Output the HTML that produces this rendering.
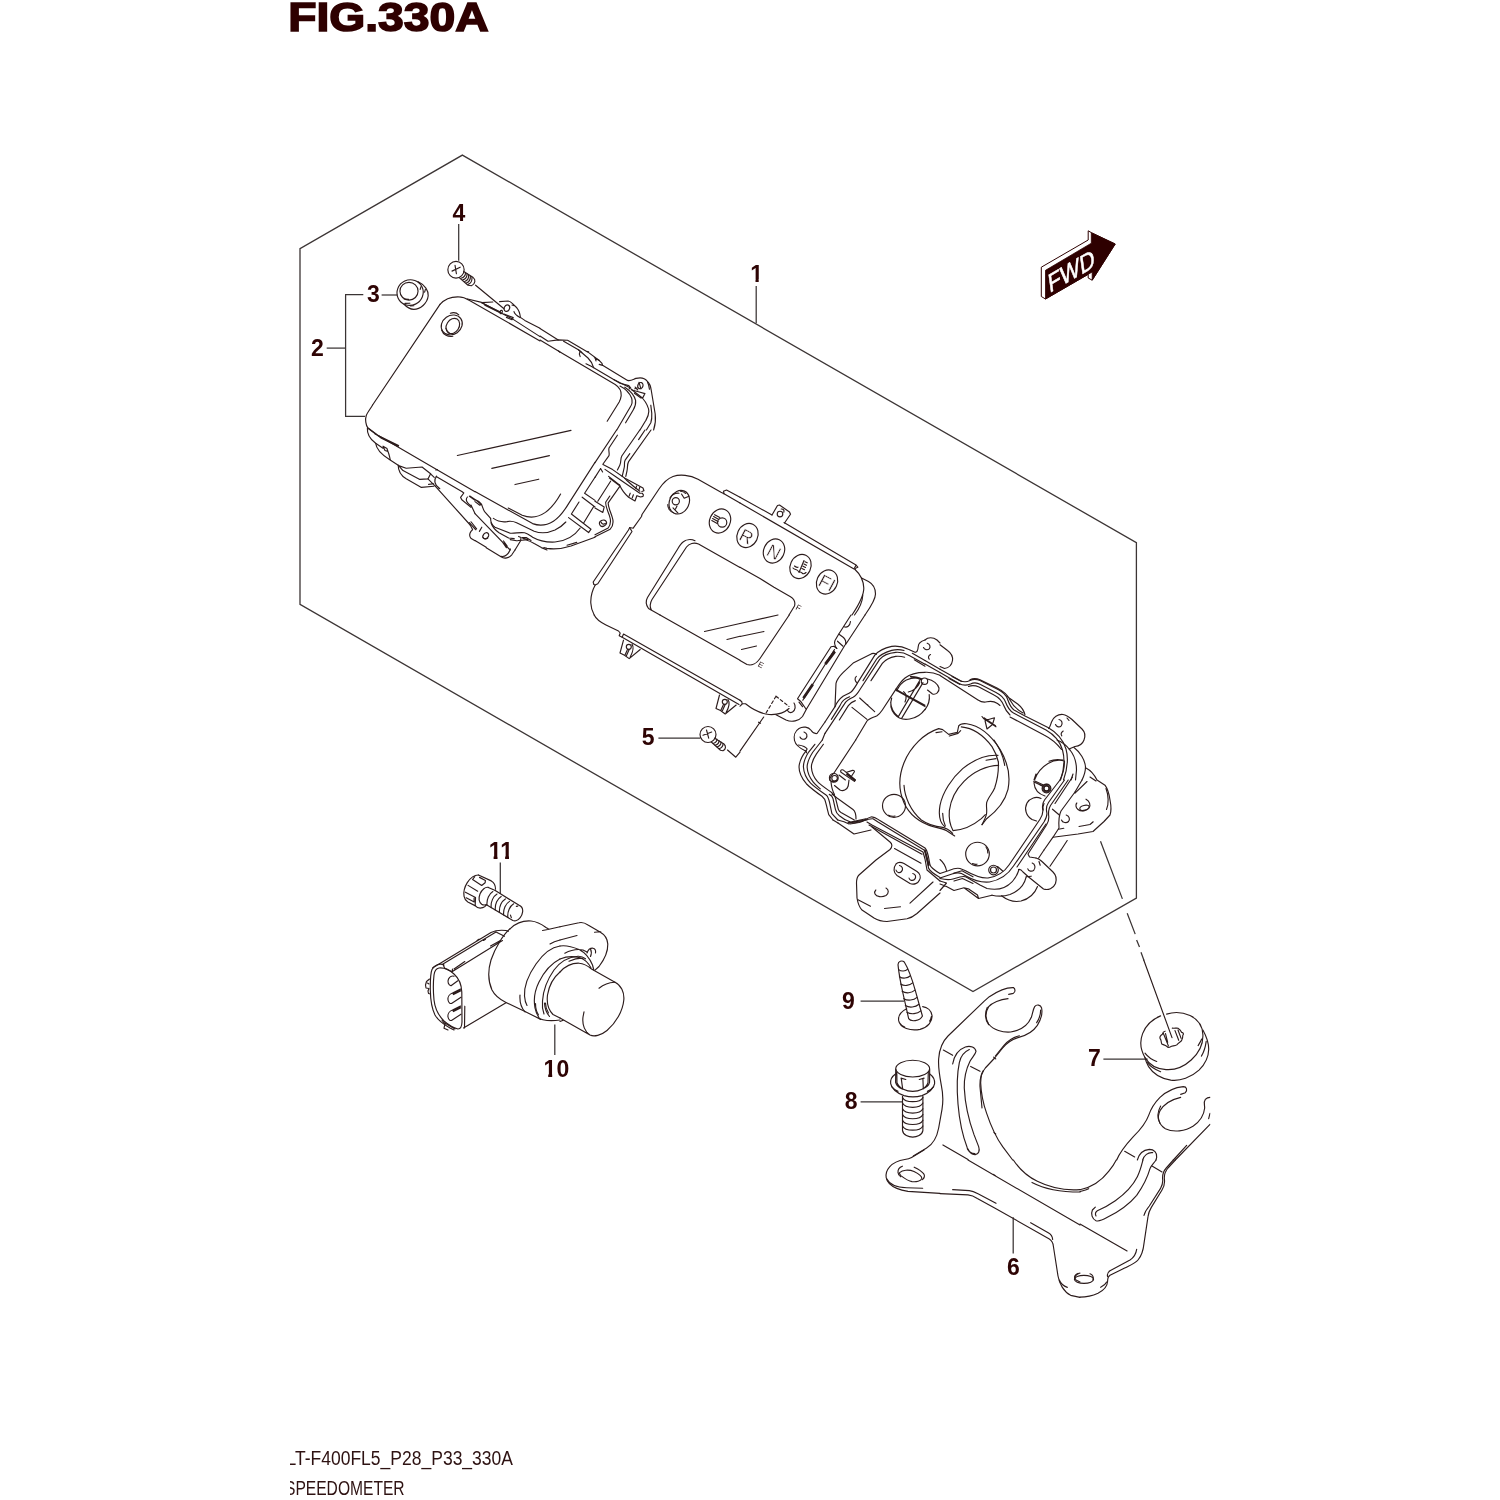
<!DOCTYPE html>
<html lang="en">
<head>
<meta charset="utf-8">
<title>FIG.330A SPEEDOMETER</title>
<style>
html,body{margin:0;padding:0;background:#fff;}
body{width:1500px;height:1500px;overflow:hidden;font-family:"Liberation Sans",sans-serif;}
svg{display:block;position:absolute;left:0;top:0;}
svg{will-change:transform;}
.ln{fill:none;stroke:#2c1c1c;stroke-width:1.15;stroke-linecap:round;stroke-linejoin:round;}
.ln *{vector-effect:non-scaling-stroke;}
.bd{fill:none;stroke:#3c3535;stroke-width:1.3;stroke-linejoin:miter;}
.ld{fill:none;stroke:#3a3434;stroke-width:1.25;}
.num{font-family:"Liberation Sans",sans-serif;font-weight:bold;font-size:23px;fill:#2e0404;text-anchor:middle;}
</style>
</head>
<body>
<svg width="1500" height="1500" viewBox="0 0 1500 1500">
<defs><clipPath id="k1"><path d="M745 260 H770 V279 H758.7 V284 H755.5 V279 H745 Z"/></clipPath><clipPath id="k10"><path d="M540 1054 H572 V1079 H556.4 V1074 H552.2 V1079 H548.2 V1074 H540 Z"/></clipPath><clipPath id="k11"><path d="M484 836 H518 V856 H509 V860 H505.1 V856 H497.5 V860 H493.6 V856 H484 Z"/></clipPath><clipPath id="cl"><rect x="290" y="0" width="1210" height="1500"/></clipPath></defs>
<rect width="1500" height="1500" fill="#fff"/>
<!-- TITLE -->
<text x="288.2" y="31.3" font-family="Liberation Sans, sans-serif" font-weight="bold" font-size="41" fill="#2e0000" stroke="#2e0000" stroke-width="1.6" textLength="200.5" lengthAdjust="spacingAndGlyphs">FIG.330A</text>
<!-- FOOTER -->
<g clip-path="url(#cl)" font-family="Liberation Sans, sans-serif" font-size="20" fill="#2e1212">
<text x="286.5" y="1464.8" textLength="226.5" lengthAdjust="spacingAndGlyphs">LT-F400FL5_P28_P33_330A</text>
<text x="285" y="1494.8" textLength="119.6" lengthAdjust="spacingAndGlyphs">SPEEDOMETER</text>
</g>
<!-- BORDER -->
<path class="bd" d="M462.4 155.1 L1136.4 542.7 L1136.4 898 L973 991.6 L300 604.4 L300 248.7 Z"/>
<!-- LABELS -->
<g class="num">
<text x="756.6" y="282.4" clip-path="url(#k1)">1</text>
<text x="317.3" y="356">2</text>
<text x="373.5" y="302.4">3</text>
<text x="459" y="220.7">4</text>
<text x="648.2" y="745">5</text>
<text x="1013.4" y="1274.6">6</text>
<text x="1094.4" y="1065.5">7</text>
<text x="851.2" y="1109.4">8</text>
<text x="848.3" y="1008.6">9</text>
<text x="556.4" y="1076.5" clip-path="url(#k10)">10</text>
<text x="501" y="858.5" clip-path="url(#k11)">11</text>
</g>
<!-- LEADERS -->
<g class="ld">
<path d="M756.2 286 V323.2"/>
<path d="M326.7 348.1 H345.6"/>
<path d="M363.3 294.7 H345.6 V416.4 H365"/>
<path d="M381.6 295 H397.3"/>
<path d="M458.7 224 V260.7"/>
<path d="M658.4 738 H700"/>
<path d="M1013.2 1217.2 V1253.6"/>
<path d="M1103.4 1059 H1147.6"/>
<path d="M860.6 1101.9 H902.6"/>
<path d="M860.6 1001 H904"/>
<path d="M554.8 1024.5 V1054.9"/>
<path d="M500.3 862.5 V894"/>
<path d="M1100.5 841.3 L1122.4 898.9 M1127.2 913.3 L1135.2 934.1 M1136.6 940 L1139.5 947 M1141 952.3 L1144 960.5"/>
</g>
<!-- FWD ARROW -->
<g id="fwd">
<path d="M1041.3 267.2 L1088.2 240 L1088.2 230.8 L1091.3 232.6 L1115.2 244 L1092.2 280.2 L1088.2 278 L1088.2 274.3 L1045.5 299 L1041.3 296.5 Z" fill="#fff" stroke="#2e0000" stroke-width="1"/>
<path d="M1045.5 270.3 L1091.3 243.2 L1091.3 232.8 L1115.2 244 L1092.2 280.2 L1092.2 272 L1045.5 299 Z" fill="#2e0000" stroke="#2e0000" stroke-width="0.8" stroke-linejoin="miter"/>
<text transform="matrix(1 -0.585 0.14 1 1049.5 293)" font-family="Liberation Sans, sans-serif" font-size="25" fill="#fff" stroke="#fff" stroke-width="0.55" textLength="46" lengthAdjust="spacingAndGlyphs">FWD</text>
</g>
<!-- PART 2/3/4 : lens + frame -->
<g class="ln">
<g transform="translate(440 250) scale(0.08)"><!--T1-->
<ellipse cx="200" cy="247" rx="102" ry="104"/>
<path d="M150 264 L252 215 M188 192 L205 297"/>
<path d="M297 268 L415 345 C447 368 445 425 393 447 L350 440 L240 345"/>
<path d="M262 354 C300 342 320 312 318 284 M285 374 C322 362 340 332 338 298 M308 394 C345 380 362 350 358 313 M330 412 C365 398 382 370 380 328 M352 430 C385 417 402 390 400 342"/>
<path d="M445 440 L800 735"/>
<path d="M0 680 C60 610 140 585 220 585 C290 588 330 605 370 630 L1250 1136"/>
<path d="M345 612 L520 655 L770 790 L900 858 L1250 1083"/>
<path d="M520 658 L660 650 M525 662 L755 775 M560 690 L770 792"/>
<path d="M745 645 L850 638 C870 640 885 650 900 665 L960 722 C985 750 1000 790 1005 842 L1060 880 L1250 979"/>
<path d="M900 688 L928 696 M925 770 C930 795 945 812 1000 845"/>
<ellipse cx="836" cy="727" rx="33" ry="42" transform="rotate(25 836 727)"/>
<ellipse cx="765" cy="775" rx="14" ry="22" transform="rotate(20 765 775)"/>
<path d="M800 800 L915 845 L900 872 L830 842"/>
<!-- lens hole -->
<ellipse cx="147" cy="937" rx="138" ry="118" transform="rotate(-35 147 937)"/>
<ellipse cx="160" cy="950" rx="78" ry="102" transform="rotate(32 160 950)"/>
<path d="M20 1000 C40 1060 100 1090 160 1078 M130 790 C170 775 215 790 235 810 M75 980 C85 1010 100 1030 120 1040"/>
</g>
<g transform="translate(355 405) scale(0.08)"><!--T2-->
<path d="M220 0 C190 50 150 100 140 135 C125 180 135 250 160 285 L280 375 L650 590 L1020 805 L1500 1085"/>
<path d="M1008 812 L1030 808"/>
<path d="M250 362 L545 505 M170 297 L330 415 L540 520"/>
<path d="M155 290 C150 350 180 420 258 478 C265 540 300 600 430 680 L540 752"/>
<path d="M258 478 L350 540 M350 515 L400 545 L412 580 L375 568 Z M412 580 C430 620 432 650 440 682"/>
<path d="M540 752 C540 820 560 872 640 922 L830 1030 L985 1015"/>
<path d="M545 758 L640 790 L838 775 L945 860 L912 924 L810 930 L600 820 Z"/>
<path d="M912 924 L1000 1010 L1440 1500 M945 860 L990 905 M920 992 L985 985"/>
<path d="M1020 890 C985 935 985 985 1050 1042 M1010 1000 L1060 1046"/>
<path d="M1015 893 L1340 1085 L1360 1100 L1320 1155 L1335 1185 L1450 1280"/>
<path d="M1500 1180 L1440 1140 M1405 1150 C1380 1180 1385 1210 1460 1272 M1430 1140 L1500 1190 M1450 1250 L1500 1357"/>
</g>
</g>
<g class="ln">
<g transform="translate(540 310) scale(0.08)"><!--T3-->
<path d="M0 232 L228 374"/>
<path d="M0 325 L100 390 L228 374 L345 378 L600 527 L745 635 L775 668 L782 692 L740 680"/>
<path d="M590 518 L608 522 M680 597 L742 632 M690 602 L700 636"/>
<path d="M782 692 L1095 880 C1130 890 1160 870 1200 855 C1260 840 1310 850 1340 890 C1375 920 1385 960 1390 1000 L1440 1300 C1450 1380 1440 1440 1420 1500"/>
<path d="M295 390 L480 497 L600 600 C640 640 660 680 670 720"/>
<path d="M480 497 L522 532 M500 520 C488 540 492 565 502 582"/>
<path d="M0 375 L240 520 L940 932 C990 965 1020 1010 1015 1070 C1010 1110 1000 1130 990 1150 L840 1390"/>
<path d="M232 512 L250 528"/>
<path d="M575 672 L640 702 L1000 915 L1110 945 L1135 975 L1115 985"/>
<path d="M920 870 L1120 968"/>
<path d="M1000 950 C1060 980 1120 1040 1145 1100 C1160 1150 1150 1180 1130 1210 L960 1500"/>
<path d="M1060 965 C1130 1010 1180 1070 1195 1130 C1200 1180 1185 1220 1165 1250 L1070 1410"/>
<path d="M1140 990 L1280 1100 C1330 1160 1360 1220 1360 1270 C1360 1320 1340 1350 1320 1385 L1250 1500"/>
<path d="M1345 905 C1360 930 1365 960 1368 990 M1385 1190 L1397 1290 C1400 1340 1395 1380 1385 1410 L1330 1500"/>
<ellipse cx="1255" cy="945" rx="32" ry="40" transform="rotate(20 1255 945)"/>
<path d="M1190 963 L1222 1000 M1238 905 L1262 985 M1185 985 L1215 975"/>
<path d="M1150 1000 L1230 1022 L1312 1045 L1287 1092 L1262 1100 L1180 1040"/>
</g>
<g transform="translate(475 430) scale(0.08)"><!--T4-->
<path d="M0 270 L1200 5 M210 480 L930 320 M500 682 L797 615"/>
<path d="M415 975 L590 1065 C690 1105 800 1085 880 1030 C960 970 1020 890 1070 800"/>
<path d="M0 770 L720 1170 C800 1200 900 1190 980 1140 C1060 1090 1110 1020 1170 920 L1500 405"/>
<path d="M230 1105 C280 1140 330 1155 400 1145 C450 1135 480 1140 520 1160 L740 1265 C820 1295 920 1285 1000 1250 C1060 1220 1100 1190 1135 1150"/>
<path d="M195 1105 C195 1160 210 1190 250 1215 L440 1290 C500 1295 560 1275 620 1285 C660 1295 690 1320 720 1340 C800 1385 900 1405 1000 1400 C1120 1390 1240 1330 1315 1225"/>
<path d="M0 870 C30 880 60 895 80 925 C95 960 100 990 120 1020 L195 1105 M0 895 L60 940 L80 928 M15 880 L70 925"/>
<path d="M200 1160 C220 1220 250 1250 300 1285 L420 1350 L490 1358 M440 1370 L520 1385 C560 1380 600 1372 640 1375 C680 1385 700 1395 740 1420 L830 1470 L900 1500"/>
<path d="M545 1330 L575 1345 L570 1385 L500 1500 M590 1345 L640 1345 L700 1382 M600 1358 L660 1370"/>
<path d="M0 1045 L440 1500 M340 1397 L392 1472 M357 1387 L402 1452 M0 1380 L140 1466"/>
<path d="M85 1215 L55 1267"/>
<ellipse cx="135" cy="1322" rx="42" ry="32" transform="rotate(-50 135 1322)"/>
<path d="M100 1345 C115 1360 140 1365 160 1350"/>
<path d="M1500 590 L1370 790 L1500 880 M1340 840 L1500 962 M1300 900 L1205 1050 L1450 1240 L1420 1282 L1170 1095 M1480 962 L1360 1160"/>
<path d="M1272 1405 L1150 1440 M1500 1340 L1200 1450 C1100 1482 1000 1495 900 1480 L860 1470"/>
</g>
</g>
<g class="ln">
<g transform="translate(595 430) scale(0.08)"><!--T5 frame right-->
<path d="M270 0 L0 408 M280 65 L175 225 C165 260 185 290 175 320 L100 425"/>
<path d="M100 432 L220 495 L370 600 L600 725 L612 760 L585 768"/>
<path d="M125 492 L260 585 L560 790 L590 790 L605 810 L600 830 L570 838 L525 822"/>
<path d="M305 685 C330 740 370 800 420 840 L500 887 L522 825 M370 605 C420 650 470 700 560 765"/>
<path d="M440 790 L425 830 M480 810 L465 850 M520 700 L510 730 M560 715 L550 745"/>
<path d="M170 580 L310 690 M180 600 L300 690" />
<path d="M560 0 L335 325 C315 360 330 400 310 440 L280 500"/>
<path d="M625 0 L545 120 M435 295 L375 380 C360 410 375 440 365 470 L340 580"/>
<path d="M700 0 L420 395 C400 430 410 470 400 510 L385 580"/>
<path d="M70 482 L0 592 M70 482 L95 525 M195 640 L35 890"/>
<path d="M0 892 L115 962 L98 1030 L0 975"/>
<path d="M310 705 L165 910 C160 950 190 1010 215 1090 C235 1150 235 1190 190 1240 L0 1335"/>
<path d="M185 825 L135 900 C125 930 150 990 180 1070 C205 1140 200 1180 165 1225 L0 1308"/>
<ellipse cx="100" cy="1165" rx="45" ry="38" transform="rotate(-30 100 1165)"/>
<path d="M75 1150 C85 1175 105 1185 130 1170"/>
</g>
</g>
<g class="ln">
<path d="M440 304.4 L372.6 405 M457.3 455.5 L475.5 451.5"/>
<g transform="translate(385 265) scale(0.04)"><!--button 3-->
<ellipse cx="628" cy="690" rx="330" ry="318" transform="rotate(-25 628 690)"/>
<ellipse cx="600" cy="655" rx="226" ry="222"/>
<path d="M830 420 C1000 500 1090 640 1080 770 C1060 960 880 1110 720 1110 C620 1105 540 1050 470 975"/>
<path d="M500 960 L620 955 M640 1025 L720 1020 M880 610 L900 540 M990 680 L1010 610 M480 850 L590 860"/>
</g>
<g transform="translate(415 500) scale(0.08)"><!--T6 foot-->
<path d="M690 312 L720 370 L700 392 C680 420 675 452 702 482 L750 508"/>
<path d="M890 596 L1075 710 C1120 740 1175 725 1210 685 L1250 625"/>
<path d="M1075 705 C1120 712 1160 685 1180 642 L1192 612"/>
<path d="M680 282 L760 372 M700 272 L770 360"/>
</g>
</g>
<!-- PANEL -->
<g class="ln">
<g transform="translate(590 465) scale(0.1)"><!--P1-->
<path d="M1340 288 L1310 272 L1080 142 C1000 100 900 90 830 115 C770 138 730 180 690 240 L520 495 L515 515 L432 632 L397 625 L385 650 L32 1170 L38 1195 L52 1200 C25 1250 5 1310 8 1380 C10 1430 25 1470 42 1500"/>
<path d="M397 627 L420 665 L78 1188 L52 1200"/>
<path d="M1335 262 L1365 250 L1500 322 M1340 288 L1500 380 M1335 262 L1340 288"/>
<ellipse cx="893" cy="372" rx="98" ry="122" transform="rotate(25 893 372)"/>
<circle cx="858" cy="362" r="36"/>
<path d="M830 428 L880 482 M915 290 L942 332 L990 312 M778 395 C775 430 800 465 835 478 M800 330 C815 300 850 280 890 282 M905 262 C925 262 945 272 955 285 M870 410 L855 440"/>
<ellipse cx="1300" cy="560" rx="103" ry="125" transform="rotate(25 1300 560)"/>
<circle cx="1322" cy="575" r="46"/>
<path d="M1218 555 L1272 585 M1226 535 L1280 565 M1236 515 L1288 545 M1246 497 L1298 525"/>
<path d="M1050 757 C1010 738 960 745 930 770 C910 785 895 810 880 835 L575 1325 C555 1360 560 1400 585 1435 L700 1500"/>
<path d="M1500 1025 L1085 790 C1040 770 990 785 965 820 L620 1345 C598 1385 598 1420 612 1448"/>
</g>
<g transform="translate(740 465) scale(0.1)"><!--P2-->
<path d="M0 322 L320 500 M440 575 L1160 1000 L1178 1022 L1160 1030 L1150 1045"/>
<path d="M0 380 L1140 1040 L1160 1002"/>
<path d="M320 500 L375 405 L395 400 L495 470 L505 492 L445 580"/>
<circle cx="400" cy="490" r="28"/><path d="M412 440 C435 438 445 455 438 472"/>
<path d="M1150 1045 C1200 1090 1235 1160 1238 1230 C1240 1300 1200 1380 1120 1500"/>
<path d="M1215 1130 L1285 1165 C1330 1190 1355 1240 1355 1290 C1355 1340 1320 1400 1250 1500"/>
<path d="M1228 1300 C1225 1370 1190 1440 1145 1500"/>
<ellipse cx="75" cy="705" rx="103" ry="125" transform="rotate(25 75 705)"/>
<ellipse cx="340" cy="860" rx="103" ry="125" transform="rotate(25 340 860)"/>
<ellipse cx="605" cy="1015" rx="103" ry="125" transform="rotate(25 605 1015)"/>
<ellipse cx="870" cy="1170" rx="103" ry="125" transform="rotate(25 870 1170)"/>
<path d="M640 955 L590 1075 M650 968 L672 978 M640 990 L665 1002 M630 1012 L655 1024 M620 1035 L645 1047 M530 1030 C545 1050 565 1040 575 1055 C590 1075 610 1065 620 1080 C635 1095 650 1085 660 1075 M545 1010 C555 1020 570 1025 580 1022"/>
<path d="M0 1022 L200 1135 L340 1222 L505 1318 C540 1340 555 1375 545 1410 L490 1500"/>
</g>
<g transform="translate(590 615) scale(0.1)"><!--P3-->
<path d="M42 0 C60 40 100 70 160 100 L285 160 L302 180 L292 208 L322 222"/>
<path d="M335 190 L1500 852 M322 222 L1490 895 M335 190 L322 222"/>
<path d="M335 252 L300 380 L345 402 L392 436 L502 345 M420 292 C440 320 430 370 400 425 M375 345 L350 400 M392 345 L365 405"/>
<circle cx="388" cy="318" r="25"/>
<path d="M1295 800 L1260 935 L1305 955 L1352 990 L1462 900 M1380 845 C1400 875 1390 925 1360 978 M1335 895 L1310 950 M1352 895 L1325 955"/>
<circle cx="1348" cy="868" r="25"/>
<path d="M700 0 L1500 452 M1145 165 L1500 85 M1370 245 L1500 212"/>
<circle cx="1180" cy="1195" r="80"/>
<path d="M1130 1202 L1217 1170 M1165 1150 L1187 1232"/>
<path d="M1247 1232 L1340 1290 C1362 1310 1360 1345 1330 1358 L1305 1352 L1213 1270"/>
<path d="M1232 1285 C1258 1275 1272 1255 1268 1240 M1252 1303 C1280 1292 1292 1272 1290 1255 M1272 1320 C1298 1310 1312 1290 1310 1270 M1292 1338 C1318 1328 1332 1308 1330 1285"/>
<path d="M1375 1350 L1458 1422 L1500 1372"/>
</g>
<g transform="translate(740 615) scale(0.1)"><!--P4-->
<path d="M492 0 L200 435 C170 480 120 510 70 495 L0 455"/>
<path d="M0 85 L380 0 M0 215 L240 165 M15 345 L165 310"/>
<path d="M0 852 L18 868 L22 890 L0 912 M22 885 L55 888 C120 940 200 985 290 995 C370 1000 440 980 490 935"/>
<path d="M540 880 C560 910 555 950 525 970 C505 980 485 972 475 955"/>
<path d="M360 997 L460 1050 C520 1075 590 1060 625 1015 L665 940"/>
<path d="M360 812 L490 915 M360 812 L262 978" stroke-dasharray="3 2.5"/>
<path d="M237 1020 L0 1362 M185 1072 L205 1082"/>
<path d="M575 838 L910 318 L940 312 L968 335 M945 345 L628 852 M575 838 L605 862 L660 940 M590 872 L625 917"/>
<path d="M850 482 L940 362 M857 487 L946 368 M864 492 L952 374 M630 822 L720 690 M637 827 L726 696 M644 832 L732 702"/>
<path d="M1050 300 L665 940 M1110 0 L985 195 L950 255 C940 280 950 310 968 335"/>
<path d="M990 192 L1035 225 C1055 245 1062 270 1055 295 M975 262 L1030 312 M1250 0 L1058 292 M1040 118 C1070 130 1100 110 1105 65"/>
</g>
</g>
<g font-family="Liberation Sans, sans-serif" fill="#2a1818" text-anchor="middle" stroke="#fff" stroke-width="0.45" style="paint-order:fill stroke;text-rendering:geometricPrecision">
<text transform="translate(746.5 536.5) rotate(28)" font-size="18" y="6.4">R</text>
<text transform="translate(774 551.8) rotate(28)" font-size="18" y="6.4">N</text>
<text transform="translate(827 582.8) rotate(28)" font-size="18" y="6.4">FI</text>
<text transform="translate(798.5 607.5) rotate(28)" font-size="8" y="2.9" stroke="none">F</text>
<text transform="translate(761 664.8) rotate(28)" font-size="8" y="2.9" stroke="none">E</text>
</g>
<!-- HOUSING -->
<g class="ln">
<g transform="translate(825 640) scale(0.066667)"><!--HC-->
<path d="M150 1000 L165 650 C180 590 220 540 270 490 L430 340 L700 205 C730 195 755 205 770 215 M470 545 C440 570 445 620 485 645"/>
<path d="M0 1230 L150 1000 C175 940 210 890 270 845 C310 820 350 810 390 780 C430 745 455 700 490 640 L745 230 C790 175 880 120 1000 95 C1080 85 1170 100 1250 140 L1350 185 C1385 185 1395 150 1398 100 C1400 60 1430 20 1500 0"/>
<path d="M95 1190 L225 985 C250 920 290 880 370 852 M570 610 L775 285 C820 225 900 185 1000 155 C1060 140 1130 140 1185 158"/>
<path d="M0 1400 L290 962 C315 915 360 885 420 860 C470 835 490 800 520 750 L820 290 C870 230 960 195 1060 185 C1130 180 1200 195 1270 235 L1500 362"/>
<path d="M215 1200 L350 985 C375 950 410 925 455 910 M690 610 L860 350 C900 300 980 260 1060 245 C1110 240 1150 245 1195 258"/>
<path d="M1310 200 L1500 308 M1340 298 L1500 392"/>
<path d="M460 1500 L630 1215 C660 1180 720 1165 780 1135 C820 1110 840 1080 860 1050 L1060 745 C1100 680 1150 610 1200 570 C1270 515 1380 485 1500 485"/>
<path d="M1075 760 C1110 690 1160 630 1220 600 C1290 570 1370 560 1445 580"/>
<path d="M520 870 L745 1075 M405 1010 L630 1190 M632 968 L648 982"/>
<path d="M1000 870 C975 950 985 1040 1040 1110 C1090 1170 1180 1200 1270 1185 C1360 1170 1450 1110 1500 1040 M985 935 C990 1020 1030 1100 1100 1150"/>
<path d="M1060 738 L1500 978 M1066 754 L1500 998"/>
<path d="M1420 610 L1100 1150 M1470 640 L1150 1175 M1180 775 C1215 800 1230 850 1200 930 M1250 780 C1330 760 1390 710 1420 640 M1280 548 C1340 545 1410 560 1450 590 M1290 558 C1340 555 1400 570 1440 598"/>
</g>
<g transform="translate(790 630) scale(0.1)"><!--H1-->
<path d="M350 920 L270 1035 C245 1040 225 1025 208 1000 C185 970 130 960 90 985 C50 1010 35 1060 45 1105 C55 1150 100 1185 160 1212 L165 1228"/>
<path d="M140 1020 C170 1030 178 1060 160 1082 C140 1100 110 1095 100 1070 M85 1150 C120 1155 155 1165 172 1190 L155 1212"/>
<path d="M350 1033 L323 1100"/>
<path d="M657 1100 L440 1430 C415 1450 400 1475 398 1500"/>
<path d="M1350 100 C1380 70 1430 70 1470 100 L1500 130 M1372 132 C1400 140 1408 170 1392 188 C1375 205 1345 198 1335 175 M1405 245 C1385 255 1378 275 1392 292"/>
<path d="M1350 305 L1500 392 M1350 341 L1500 425 M1350 423 C1400 420 1450 430 1500 452"/>
<circle cx="1345" cy="512" r="32"/>
<path d="M1375 490 C1430 500 1480 540 1490 580 C1495 620 1460 650 1425 640 L1375 600 M1350 797 C1385 750 1400 700 1392 645"/>
</g>
</g>
<g class="ln">
<g transform="translate(940 630) scale(0.1)"><!--H2-->
<path d="M0 148 L75 205 C110 230 130 270 125 305 C118 350 85 380 45 385 L0 365"/>
<path d="M0 392 L200 505 C240 525 270 520 300 505 C330 490 360 488 400 505 L580 595 C630 620 660 650 675 690 C690 730 700 770 740 800 L850 860 L1080 975 C1160 1020 1230 1090 1260 1190 C1285 1280 1270 1400 1235 1500"/>
<path d="M0 425 L190 535 C235 560 270 555 305 540 C335 525 370 525 405 545 L560 625 C610 650 640 680 655 720 C670 760 690 805 735 830 L1060 1000 C1130 1040 1200 1110 1225 1200 C1250 1290 1240 1400 1205 1500"/>
<path d="M300 498 C330 482 370 485 400 498 L570 580 C640 615 680 650 700 700 C720 740 760 790 830 830 M668 662 L780 742 C815 770 840 805 850 848"/>
<path d="M285 565 C320 550 350 552 390 570 L540 650 C600 680 625 720 640 760 C650 790 670 820 700 850"/>
<path d="M0 455 L380 700 C410 720 440 725 470 718 C510 708 545 715 575 735 L600 755 M90 485 L200 545 M120 465 L215 515"/>
<path d="M700 870 L1040 1050 C1120 1090 1180 1150 1215 1195 M1170 1100 C1220 1120 1270 1160 1300 1200"/>
<path d="M1085 985 C1100 975 1105 950 1115 920 C1130 870 1180 840 1230 845 C1265 850 1290 870 1320 895 L1420 990 C1450 1020 1455 1060 1440 1100 C1425 1140 1390 1162 1350 1165"/>
<path d="M1190 895 C1220 900 1230 935 1212 958 C1195 978 1165 970 1155 945 M1232 1010 C1212 1022 1205 1042 1218 1058 M1270 880 L1290 905"/>
<path d="M1290 1190 L1350 1165 M1340 1175 C1400 1220 1450 1300 1455 1370 C1455 1420 1440 1460 1420 1500 M1300 1200 C1340 1250 1365 1330 1365 1400 L1355 1500 M1330 1440 L1310 1500"/>
<path d="M420 865 L435 885 L560 968 M450 905 L545 878 L525 945 L470 990 Z M440 878 L555 958"/>
<path d="M945 1500 C970 1430 1020 1370 1080 1335 C1130 1305 1190 1295 1245 1310 M1090 1312 C1130 1295 1180 1290 1230 1300 M960 1440 L940 1500 M1245 1310 C1245 1380 1225 1450 1200 1500"/>
</g>
</g>
<g class="ln">
<g transform="translate(1040 700) scale(0.1)"><!--H3-->
<path d="M420 800 L350 920 M460 680 C500 700 545 750 570 800 L650 852 C670 880 690 930 700 1000 C712 1060 715 1110 700 1150 L640 1215 L530 1315 L380 1340 L130 1372 M500 770 L560 810"/>
<path d="M660 885 C685 950 690 1040 665 1095"/>
<path d="M460 992 C495 1010 510 1050 490 1080 C470 1110 410 1120 380 1095 C355 1075 355 1045 368 1030"/>
<ellipse cx="445" cy="1078" rx="48" ry="24" transform="rotate(-15 445 1078)"/>
<path d="M390 1265 L500 1245 L532 1218 M470 815 L350 932 M350 920 L210 1110 C190 1150 185 1200 190 1280 L130 1372 L40 1500"/>
<path d="M262 1150 C295 1160 302 1195 285 1215 C265 1235 225 1228 215 1200 M185 1292 L238 1283 M125 1092 L190 1148"/>
<path d="M272 1405 L210 1500"/>
<circle cx="65" cy="885" r="44"/><circle cx="65" cy="885" r="27"/>
<path d="M0 848 L28 862"/>
</g>
</g>
<g class="ln">
<g transform="translate(790 780) scale(0.1)"><!--H4-->
<path d="M430 400 L480 430"/>
<path d="M478 400 L540 418 L590 440"/>
<path d="M547 395 L600 418"/>

<path d="M600 440 L690 425 C740 410 770 380 810 370 C840 365 860 380 890 400 L1350 680 C1370 700 1375 730 1385 770 L1400 850 C1410 880 1440 900 1500 935"/>
<path d="M640 430 L720 415 C760 400 790 385 830 388 L880 420 L1340 700 C1355 720 1360 750 1368 790 L1385 880 C1395 910 1440 940 1500 975"/>
<path d="M770 420 L820 450 L1330 720 L1350 790 L1370 900 L1500 1010 M790 450 L1320 742 M580 425 L760 388 M590 432 L770 398 M1345 700 L1385 860 M1352 700 L1392 850"/>
<path d="M480 430 L640 540 L810 500 M820 470 L1000 620 C1025 640 1025 670 1000 695 L860 800 L690 950 C670 970 665 1000 665 1030 L670 1180 C680 1240 690 1270 720 1300 L840 1380 C880 1405 930 1415 970 1415 L1170 1388 C1210 1380 1240 1360 1270 1335 L1500 1130"/>
<path d="M680 1198 L805 1262 M945 1285 L1105 1268 M1200 1232 L1430 1020 M1045 685 L1310 832"/>
<path d="M1060 840 C1080 820 1110 820 1140 835 L1270 915 C1300 935 1310 970 1295 1000 C1280 1035 1240 1050 1200 1035 L1070 955 C1035 930 1030 880 1060 840"/>
<path d="M1095 855 C1125 860 1135 895 1115 915 C1095 935 1065 925 1060 900 M1228 935 C1258 940 1265 975 1245 995 C1225 1012 1195 1005 1190 980"/>
<path d="M960 1080 C990 1095 990 1135 960 1155 C920 1175 865 1170 850 1140 C842 1125 848 1110 858 1100"/>
<path d="M420 140 L470 180 L630 295 C650 310 660 340 660 390"/>
<circle cx="1040" cy="258" r="115"/><path d="M985 352 C1005 362 1030 365 1050 360"/>
<path d="M410 20 C415 70 425 110 445 145 M445 55 L500 100 C530 115 570 100 582 60 L590 0 M400 0 C420 25 450 20 470 0"/>
</g>
</g>
<g class="ln">
<g transform="translate(940 780) scale(0.1)"><!--H5-->
<path d="M1200 0 L1045 200 C1025 230 1020 260 1028 300 C1032 340 1015 370 1000 392 L690 850 C650 910 580 965 480 980 C400 985 330 950 250 905 L200 885 C170 878 130 888 90 905 L0 935"/>
<path d="M1245 0 L1085 225 C1065 255 1060 290 1068 325 C1075 360 1055 395 1040 420 L735 860 C690 930 610 1000 495 1020 C400 1030 330 1000 260 960 L215 935 C190 925 150 930 120 940 L0 980"/>
<path d="M1282 0 L1105 255 C1085 290 1082 330 1088 370 C1090 400 1080 425 1065 450 L880 740 L895 770 L960 780"/>
<path d="M1060 440 L770 870 M1325 -30 L1150 235 M1040 235 C1030 255 1028 280 1032 300"/>
<path d="M960 780 C985 785 1000 795 1020 815 L1130 920 C1160 950 1170 990 1155 1035 C1135 1085 1080 1105 1035 1090 L880 965 L830 920 C815 900 800 890 785 895"/>
<path d="M922 830 C952 840 958 880 938 902 C918 920 885 912 878 888 M990 815 L1002 852 M862 968 L912 962"/>
<path d="M862 968 C845 1040 790 1110 700 1145 C640 1165 580 1165 520 1152"/>
<path d="M975 1065 C950 1130 890 1190 810 1210 C740 1225 670 1200 615 1158"/>
<path d="M790 895 C770 960 720 1040 640 1075 C580 1100 520 1095 470 1085 L400 1050 L270 975 C250 962 230 962 200 970 L130 990 C100 998 60 1000 0 985"/>
<path d="M140 1010 L225 985 L330 1035 M135 932 L220 908 L330 968"/>
<path d="M0 1040 L60 1062 L140 1105 L240 1078 L290 1090 M240 1078 L385 1185 L520 1152 M290 1092 L375 1150 L385 1185 M0 1010 L65 1030 L0 1105 M0 795 C30 820 55 860 65 905"/>
<circle cx="375" cy="740" r="118"/><path d="M325 835 C340 842 355 845 370 842 M460 670 C475 690 480 710 478 730"/>
<circle cx="535" cy="900" r="48"/><circle cx="535" cy="900" r="30"/><path d="M575 865 L630 912"/>
<path d="M1010 185 C960 160 900 180 870 230 C840 290 860 360 920 395 L965 410"/>
<path d="M935 18 L1030 62 M940 30 C945 90 985 140 1050 160 M948 10 L1040 52"/>
<circle cx="1065" cy="82" r="38"/><circle cx="1065" cy="82" r="26"/>
<path d="M1210 700 L1100 862 M1040 700 L985 782"/>
</g>
</g>
<g class="ln">
<g transform="translate(815 755) scale(0.04)"><!--pointer-->
<circle cx="470" cy="572" r="110"/><circle cx="490" cy="582" r="70"/>
<path d="M600 500 L760 625 M640 400 C650 370 690 355 720 385 L1010 625 L985 660 L650 430 Z M790 430 L940 385 C970 380 990 395 985 420 L920 520"/>
<path d="M800 470 L1000 635 M790 485 L990 648 M810 460 L1005 625"/>
</g>
</g>
<!-- BRACKET 6, SCREWS 8 9, GROMMET 7 -->
<defs><clipPath id="cr"><rect x="0" y="0" width="1210.5" height="1500"/></clipPath></defs>
<g class="ln" clip-path="url(#cr)">
<g transform="translate(880 960) scale(0.133333)"><!--B1-->
<path d="M135 35 C135 10 165 0 182 15 C210 60 240 140 265 230 L318 420 M135 35 C140 90 150 150 170 240 L215 440 C230 465 300 460 318 420"/>
<path d="M140 72 C160 88 190 85 208 68 M146 125 C170 142 205 138 228 118 M155 180 C180 198 222 193 245 172 M166 235 C195 253 238 248 262 226 M178 290 C208 308 252 302 278 280 M190 342 C220 360 266 355 292 332 M202 392 C232 410 280 405 306 382"/>
<path d="M200 365 C160 385 135 420 140 455 C150 510 230 535 300 520 C360 505 395 460 390 415 C385 380 355 355 320 350 M148 472 C158 488 170 497 185 503 M385 425 C383 440 378 450 372 458"/>
<path d="M1000 207 C950 205 880 235 820 275 L780 310 L510 570 C470 610 445 670 440 740 C435 800 445 860 460 940 C475 1010 475 1060 465 1120 L440 1260 C425 1340 400 1380 350 1410 L250 1470"/>
<path d="M1000 207 C1015 215 1018 240 1000 250 L965 258"/>
<path d="M960 290 C900 295 840 320 815 350 C790 390 790 440 815 480 C850 525 920 545 980 540 C1050 530 1110 490 1135 430 C1145 400 1148 370 1160 350 C1175 330 1205 335 1212 360 C1220 400 1205 450 1180 490 C1150 535 1100 565 1040 580"/>
<path d="M805 355 C785 400 790 450 815 485 M1205 375 C1205 410 1195 440 1175 470"/>
<path d="M1040 580 C990 595 950 620 920 660 L860 735 L790 810 C765 840 755 870 755 920 C758 1000 775 1080 800 1150 C830 1240 870 1330 920 1400 L995 1500"/>
<path d="M1045 568 C1000 580 960 605 930 640 L865 720 M775 830 C755 860 748 900 750 950 L765 1110 M852 728 L868 742 M855 1295 L868 1305"/>
<path d="M545 780 C555 720 590 670 640 652 C680 640 715 655 720 685 C715 710 690 730 675 760 C645 820 630 880 632 960 C638 1080 665 1200 705 1310 L740 1400 C750 1430 740 1455 715 1460 C690 1462 670 1440 655 1410 C620 1320 595 1200 585 1080 C575 960 578 850 595 770 C605 720 630 690 670 672"/>
<path d="M655 1415 C665 1435 690 1452 712 1452"/>
<path d="M475 675 L545 715 M680 798 L750 835 M472 1387 L660 1497"/>
</g>
<g transform="translate(1080 960) scale(0.133333)"><!--B2-->
<path d="M478 0 L690 582"/>
<path d="M275 1500 C300 1440 340 1390 400 1325 C450 1275 495 1220 515 1165 C530 1120 555 1075 600 1030 C650 985 720 955 775 950 C800 950 808 975 790 995 L755 1008"/>
<path d="M755 1030 C690 1045 630 1080 600 1130 C575 1180 590 1235 640 1265 C700 1295 790 1285 850 1245 C900 1210 930 1160 935 1110 C935 1085 925 1065 940 1045 C950 1035 965 1030 975 1030"/>
<path d="M605 1095 C580 1140 580 1190 600 1225 M975 1150 L965 1190"/>
<path d="M975 1233 L715 1500 M800 1390 L700 1500"/>
<path d="M430 1500 C440 1460 470 1425 520 1420 C555 1420 580 1445 575 1480 L570 1500 M470 1500 C480 1465 510 1440 545 1445"/>
<path d="M335 1435 L410 1477"/>
</g>
<g transform="translate(880 1160) scale(0.133333)"><!--B3-->
<path d="M450 252 L660 262 C690 265 710 275 730 288 L860 360 L1270 592 C1290 605 1298 620 1300 645 L1335 870 C1345 930 1380 990 1430 1015 L1500 1030"/>
<path d="M50 140 C70 180 130 205 200 208 L320 212 M545 222 L670 230 C695 232 715 242 735 253 L870 325 M1130 470 L1265 548 C1285 560 1293 575 1295 595 M1345 900 C1355 925 1375 945 1405 955"/>
<path d="M660 0 L1500 488 M852 108 L868 120"/>
<path d="M1000 0 C1040 60 1100 120 1180 160 C1270 205 1390 230 1500 222 M1140 168 C1220 210 1350 240 1500 240"/>
<path d="M1500 848 C1465 860 1450 880 1470 900 L1500 915"/>
</g>
<g transform="translate(1050 1130) scale(0.133333)"><!--B4-->
<path d="M225 448 C310 430 390 375 440 310 C465 280 485 250 497 225 M225 462 C250 455 270 450 290 440"/>
<path d="M765 270 L840 315"/>
<path d="M795 225 C780 250 760 260 750 290 C730 360 700 420 650 490 C600 550 520 610 430 655 C400 672 370 690 345 680 C315 665 305 630 318 600 L340 578"/>
<path d="M697 225 C690 250 680 300 655 350 C620 420 560 480 490 530 C440 565 390 590 355 605 C340 615 338 630 345 645"/>
<path d="M940 225 L885 285 C860 315 855 340 858 370 C862 400 858 420 840 450 L760 580 C745 605 738 625 735 650 L705 850 C700 900 690 940 660 975 C640 1000 600 1015 560 1035 L450 1090 C435 1100 432 1115 432 1135 C430 1170 400 1205 360 1225 C310 1248 270 1254 225 1254"/>
<path d="M925 225 L872 285 C848 312 842 340 845 370 C848 395 842 415 828 440 L745 570 C720 600 710 620 705 640 M650 895 C645 930 630 955 600 975 L450 1055 C430 1068 428 1085 432 1100 M425 1140 C415 1160 400 1170 380 1180"/>
<ellipse cx="255" cy="1120" rx="72" ry="30"/>
<path d="M185 1115 C182 1095 195 1080 212 1075 M300 1078 C320 1085 330 1105 322 1125"/>
<path d="M225 705 L578 907"/>
</g>
</g>
<!-- SENSOR 10 + BOLT 11 -->
<g class="ln">
<g transform="translate(410 880) scale(0.1)"><!--S1-->
<path d="M340 850 C300 830 240 850 220 895 C205 930 202 1000 203 1100 C205 1200 215 1280 250 1350 C275 1395 330 1440 400 1480 L440 1500"/>
<path d="M290 880 C260 885 245 910 240 950 C232 1020 232 1120 240 1200 C250 1290 280 1350 340 1410 C380 1445 440 1480 480 1490 C505 1490 518 1465 520 1420 L518 1120 C515 1040 490 985 440 940 C400 905 340 875 290 880"/>
<path d="M225 880 L810 525 C850 505 900 498 960 505 L985 512 M330 840 L860 520 L945 562 M330 840 L345 880 L420 918 L925 605 M440 890 L548 815 M805 660 L905 605 M420 918 L425 890 M670 605 L690 592 M735 605 L755 593"/>
<path d="M535 1480 L960 1228 M548 1262 L545 1480"/>
<path d="M478 1008 L410 1058 C385 1050 372 1020 385 990 C395 968 420 955 440 962"/>
<path d="M505 1090 L425 1130 C395 1140 375 1170 380 1200 C385 1225 400 1238 415 1235 L510 1172 M430 1138 L505 1100 M435 1146 L505 1110"/>
<path d="M505 1260 L425 1300 C395 1310 375 1340 380 1370 C385 1395 400 1408 415 1405 L510 1342 M430 1308 L505 1270 M435 1316 L505 1280"/>
<path d="M195 990 L165 1015 L155 1050 L160 1080 L190 1085 L180 1110 L185 1135 L205 1140 M175 1030 L190 1040"/>
<path d="M320 1402 L350 1440 L340 1482 L380 1500 M330 1420 L450 1490"/>
<path d="M1000 488 C930 550 850 680 810 800 C780 900 780 1010 820 1100 C850 1160 900 1195 960 1225 L1150 1315"/>
<path d="M1000 488 C1060 430 1140 405 1210 410 C1270 415 1320 445 1360 475 L1390 492 L1500 468 M1325 505 L1392 492 M1400 640 C1430 620 1465 608 1500 600"/>
<path d="M1500 660 C1420 670 1330 740 1260 840 C1190 940 1140 1060 1145 1160 C1148 1200 1155 1230 1170 1255"/>
<path d="M1500 790 C1420 830 1340 920 1290 1020 C1250 1100 1235 1200 1250 1280 C1260 1330 1280 1370 1305 1395"/>
<path d="M1500 920 C1440 970 1390 1060 1375 1150 C1365 1230 1385 1300 1430 1345 L1500 1380"/>
<path d="M1150 1315 L1260 1370 C1310 1400 1400 1415 1500 1400 M1100 1150 C1095 1220 1115 1280 1150 1318 M1255 1235 C1255 1280 1265 1320 1285 1350 M1355 1230 C1355 1270 1365 1300 1385 1330"/>
</g>
<g transform="translate(500 900) scale(0.1)"><!--S2-->
<path d="M600 268 L790 228 C820 220 850 230 880 250 L1000 320 C1045 345 1075 390 1078 440 C1080 510 1040 600 990 665 L950 702 M945 322 L1008 318 M600 400 L770 355"/>
<path d="M600 460 C660 450 730 470 790 495 C850 525 900 590 925 650 L938 700 M648 532 C700 505 770 488 830 500 L870 520"/>
<path d="M600 590 C660 565 740 560 800 578 C850 595 890 640 910 680 M690 612 C740 590 790 580 830 582"/>
<path d="M600 720 C650 665 720 630 790 632 C840 635 880 660 915 690 L1150 822"/>
<path d="M870 530 C880 500 900 480 930 482 C950 485 960 505 955 530 M905 490 C915 510 915 540 905 565"/>
<path d="M600 1180 L900 1350 M1150 822 C1210 850 1245 920 1238 1000 C1228 1110 1160 1230 1070 1305 C1010 1355 940 1370 900 1350 C850 1320 820 1250 830 1170 L840 1118"/>
<path d="M990 882 C1030 850 1090 825 1145 822 M600 1215 L632 1203"/>
<path d="M440 1140 C425 1100 420 1060 425 1010 C430 920 470 800 540 700 C600 620 690 570 780 563 C810 562 835 572 855 588 M445 1030 C448 1090 465 1130 495 1165"/>
</g>
</g>
<g class="ln">
<g transform="translate(455 865) scale(0.053333)"><!--bolt 11-->
<path d="M440 187 C370 185 290 240 230 330 C180 410 155 510 170 590 C180 640 205 675 240 695 L375 762"/>
<path d="M440 187 L680 298 C730 325 760 390 760 455"/>
<path d="M370 217 L330 272 L500 385 L565 332 M460 232 L570 292 L565 332 M245 382 L425 490 M195 510 L385 608 L378 762 M210 615 L360 692 M358 618 L358 690"/>
<path d="M625 420 C570 405 505 460 470 540 C440 620 455 700 500 735 C530 755 565 750 590 742 M378 762 C410 800 470 815 520 800 C555 790 575 770 590 745 M625 420 L755 480"/>
<path d="M755 480 L1195 752 C1245 770 1275 820 1268 880 C1258 960 1200 1030 1140 1045 C1120 1048 1100 1045 1085 1040 L590 745"/>
<path d="M710 498 C640 540 590 640 600 752 M788 544 C718 586 668 686 678 798 M866 590 C796 632 746 732 756 844 M944 636 C874 678 824 778 834 890 M1022 682 C952 724 902 824 912 936 M1100 728 C1030 770 980 870 990 982"/>
<path d="M1150 776 L1176 770 M1040 940 L1056 986"/>
</g>
</g>
<g class="ln">
<g transform="translate(785 740) scale(0.053333)"><!--HL-->
<path d="M400 200 C340 270 280 380 265 480 C255 580 300 700 400 820 C480 900 600 990 700 1060 L745 1115 C760 1150 770 1200 790 1280 L820 1400 L900 1500"/>
<path d="M560 80 L440 230 C380 330 345 420 345 500 C350 600 400 720 480 810 C560 890 680 970 780 1040 C810 1070 820 1110 835 1170 L880 1380 L990 1500"/>
<path d="M700 0 L520 230 C450 340 415 430 415 510 C420 600 460 700 530 790 C570 840 620 880 660 915"/>
<path d="M720 80 L590 260 C530 350 495 430 495 510 C500 600 540 700 610 780 C690 860 800 930 880 990 C920 1020 940 1060 950 1100 L1000 1300 C1010 1330 1025 1345 1050 1360 L1300 1500"/>
<path d="M830 1020 C870 1035 890 1060 900 1100 L945 1300 C955 1350 980 1390 1020 1420 L1120 1490"/>
</g>
</g>
<g class="ln">
<g transform="translate(880 680) scale(0.133333)"><!--HR ring-->
<path d="M440 365 C330 400 230 500 180 620 C140 720 140 830 180 920 C220 1010 300 1070 400 1100 C440 1110 480 1120 500 1130 L560 1170"/>
<path d="M180 790 C185 880 230 980 310 1050 C360 1085 420 1100 470 1105 C500 1110 520 1125 545 1150"/>
<path d="M590 345 C600 330 620 325 650 328 C740 340 830 410 900 520 C960 620 980 720 960 820 C940 900 880 980 800 1040 L765 1085"/>
<path d="M610 352 C700 360 780 420 840 500 C865 540 880 580 888 615 M855 450 C890 500 925 570 935 640"/>
<path d="M440 365 L470 372 L515 408 L580 392 L590 345 M420 395 L465 388 M520 420 L585 400 L605 380"/>
<path d="M885 565 C800 560 700 600 620 665 C540 735 470 840 450 940 C438 1010 450 1070 485 1100"/>
<path d="M890 640 C800 640 700 690 630 760 C570 820 530 900 520 980 C515 1040 525 1090 548 1130 C620 1125 700 1090 760 1040 L790 1010"/>
<path d="M888 615 C890 680 880 750 860 810 C845 850 810 880 800 920 C795 950 805 980 798 1010 C790 1040 775 1065 765 1085"/>
<path d="M795 602 L870 590 M470 1000 C470 1040 478 1070 490 1095"/>
</g>
</g>
<g class="ln">
<g transform="translate(880 1150) scale(0.04)"><!--ear hole-->
<path d="M1100 0 L790 185 C740 215 680 230 620 238 C480 260 330 320 240 420 C170 500 140 600 155 690 C175 800 280 900 420 960 C500 995 600 1020 700 1035 L1500 1085"/>
<path d="M490 565 C560 500 720 480 850 540 C950 590 1050 660 1045 710 C1030 780 900 800 800 790 C700 775 600 700 520 640 C490 610 480 585 490 565 Z"/>
<path d="M560 405 C490 430 445 490 450 560 C455 610 480 650 520 670 M855 430 C940 470 1040 530 1090 590 C1130 640 1110 700 1060 740"/>
</g>
</g>
<g class="ln">
<g transform="translate(1130 1000) scale(0.06)"><!--grommet 7-->
<path d="M610 235 C720 200 870 200 1000 260 C1130 320 1210 440 1215 580 C1220 720 1150 880 1020 1000 C900 1110 740 1170 600 1160 C450 1150 320 1080 250 960 C180 840 160 690 210 560 C260 430 370 320 510 265"/>
<path d="M250 960 C260 1010 280 1060 310 1110 C380 1220 520 1310 680 1335 C840 1355 1020 1290 1150 1170 C1250 1070 1310 940 1312 820 C1312 720 1270 600 1215 500"/>
<path d="M250 885 C300 950 360 995 445 1025 M290 1045 C340 1110 410 1160 510 1195 M1135 760 C1160 720 1180 690 1195 650 M1190 935 C1225 880 1255 800 1270 690"/>
<path d="M585 520 C555 525 545 545 540 570 C510 590 490 625 505 650 C525 665 515 705 530 735 C560 750 585 750 610 770 C630 795 655 795 675 780 C700 758 740 772 780 748 C800 720 835 700 858 680 C872 650 882 620 880 590 C900 568 890 545 862 540 C850 515 830 490 800 470 C770 462 740 478 705 468"/>
<path d="M555 555 L640 765 M592 560 L628 705 M750 510 L812 672 M800 500 L852 640"/>
</g>
</g>
<g class="ln">
<g transform="translate(880 1050) scale(0.06)"><!--bolt 8-->
<ellipse cx="545" cy="310" rx="282" ry="140"/>
<path d="M262 320 L260 540 C272 590 310 625 370 650 M280 365 L283 545 C320 640 440 690 545 690 C650 690 770 640 800 545 L805 365 M828 320 L826 540 C815 590 770 625 712 650"/>
<path d="M355 480 L378 650 M715 480 L722 645 M350 468 L430 492 M655 492 L735 468"/>
<path d="M258 400 C200 440 170 500 178 560 C190 640 280 720 400 760 C500 790 600 790 700 760 C810 720 900 640 910 560 C915 500 885 440 830 400"/>
<path d="M195 612 C225 650 260 675 300 690 M790 690 C830 675 870 645 892 610"/>
<path d="M375 772 L375 1340 C385 1420 480 1452 545 1452 C610 1452 705 1420 715 1340 L715 772"/>
<path d="M375 790 C420 885 670 885 715 790 M375 885 C420 980 670 980 715 885 M375 980 C420 1075 670 1075 715 980 M375 1075 C420 1170 670 1170 715 1075 M375 1170 C420 1265 670 1265 715 1170 M375 1265 C420 1360 670 1360 715 1265"/>
</g>
</g>
<!--PARTS-->
</svg>
</body>
</html>
